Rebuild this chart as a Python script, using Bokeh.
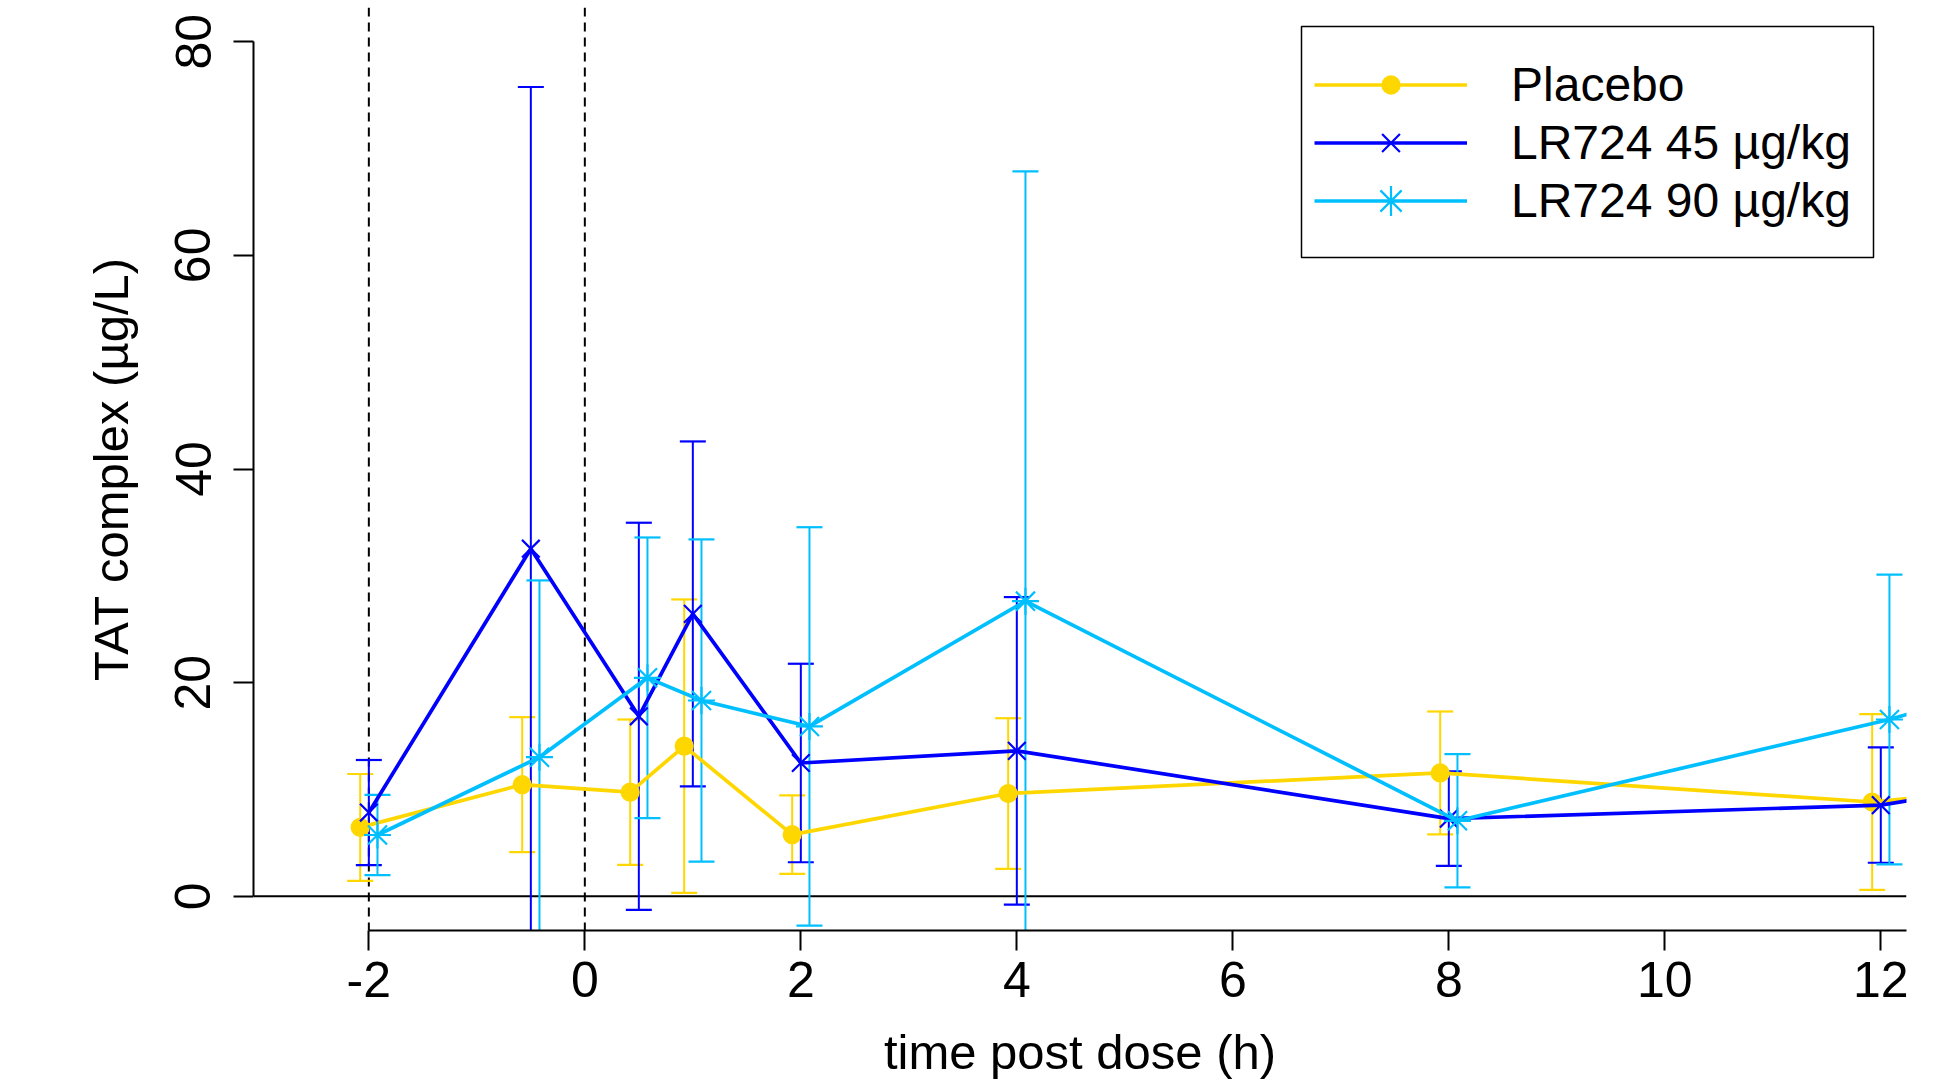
from bokeh.plotting import figure
from bokeh.models import (Range1d, Legend, LegendItem, Span, FixedTicker,
                          BoxAnnotation)
from bokeh.embed import file_html
from bokeh.resources import INLINE

# ---- data ----
times = [-2, -0.5, 0.5, 1, 2, 4, 8, 12, 24]
x_ticks = [-2, 0, 2, 4, 6, 8, 10, 12]
x_tick_labels = ["-2", "0", "2", "4", "6", "8", "10", "12"]
y_ticks = [0, 20, 40, 60, 80]
dose_window = [-2, 0]

groups = ["Placebo", "LR724 45 µg/kg", "LR724 90 µg/kg"]
placebo_mean = [6.45, 10.45, 9.75, 14.06, 5.77, 9.62, 11.55, 8.83, 20.8]
placebo_sd = [5.0, 6.32, 6.8, 13.73, 3.67, 7.05, 5.75, 8.22]
lr45_mean = [7.84, 32.54, 16.85, 26.44, 12.48, 13.62, 7.27, 8.54, 27.7]
lr45_sd = [4.92, 43.22, 18.12, 16.14, 9.29, 14.39, 4.42, 5.4]
lr90_mean = [5.74, 13.02, 20.45, 18.33, 15.9, 27.63, 7.07, 16.55, 52.0]
lr90_sd = [3.76, 16.55, 13.14, 15.08, 18.65, 40.23, 6.24, 13.56]

colors = ["#FFD700", "#0000FF", "#00BFFF"]
markers = ["circle", "x", "asterisk"]
marker_sizes = [17, 25, 27]
dodge = [-0.08, 0.0, 0.08]
means = [placebo_mean, lr45_mean, lr90_mean]
sds = [placebo_sd, lr45_sd, lr90_sd]

FONT = "Liberation Sans"
W, H = 1946, 1082
BL, BR, BT, BB = 253, 40, 7, 152

p = figure(width=W, height=H, output_backend="svg", toolbar_location=None,
           x_range=Range1d(-3.068, 12.238), y_range=Range1d(-3.20, 83.2),
           min_border_left=BL, min_border_right=BR, min_border_top=BT,
           min_border_bottom=BB)
p.grid.visible = False
p.outline_line_color = None
p.background_fill_color = "white"
p.border_fill_color = "white"

for loc in dose_window:
    p.add_layout(Span(location=loc, dimension="height", line_color="black",
                      line_width=2, line_dash="9 6", level="underlay"))
p.add_layout(Span(location=0, dimension="width", line_color="black",
                  line_width=2, level="underlay"))

# error bars
for mean, sd, col, dx in zip(means, sds, colors, dodge):
    xs = [t + dx for t in times[:len(sd)]]
    hi = [m + s for m, s in zip(mean, sd)]
    lo = [m - s for m, s in zip(mean, sd)]
    p.segment(x0=xs, y0=lo, x1=xs, y1=hi, line_color=col, line_width=2)
    p.scatter(xs, hi, marker="dash", size=26, line_color=col, line_width=2.2)
    p.scatter(xs, lo, marker="dash", size=26, line_color=col, line_width=2.2)

renderers = []
for name, mean, col, mk, ms, dx in zip(groups, means, colors, markers, marker_sizes, dodge):
    xs = [t + dx for t in times]
    lr = p.line(xs, mean, line_color=col, line_width=3.7)
    sr = p.scatter(xs, mean, marker=mk, size=ms, line_color=col, fill_color=col,
                   line_width=2.2)
    renderers.append((name, lr, sr))

# legend frame (screen units relative to the plot frame)
p.add_layout(BoxAnnotation(left=1048, right=1620, bottom=673, top=904,
                           left_units="screen", right_units="screen",
                           bottom_units="screen", top_units="screen",
                           fill_color="white", fill_alpha=1.0,
                           line_color="black", line_width=1.5, line_alpha=1.0))

# one legend row per group (lets each key symbol keep its own size)
row_centres = [84, 142, 200]          # px below top of frame area
glyph_heights = [43, 63, 75]
frame_bottom = H - BB
for (name, lr, sr), cy, gh in zip(renderers, row_centres, glyph_heights):
    item_h = max(gh, 55)
    leg = Legend(items=[LegendItem(label=name, renderers=[lr, sr])],
                 location=(1061, frame_bottom - (cy + item_h / 2)),
                 orientation="vertical",
                 border_line_alpha=0, background_fill_alpha=0,
                 padding=0, spacing=0, margin=0,
                 glyph_width=153, glyph_height=gh, label_height=item_h,
                 label_standoff=44,
                 label_text_font=FONT, label_text_font_size="48px",
                 label_text_color="black")
    p.add_layout(leg)

p.xaxis.ticker = FixedTicker(ticks=x_ticks)
p.xaxis.major_label_overrides = dict(zip(x_ticks, x_tick_labels))
p.xaxis.bounds = (-2, 12.238)
p.yaxis.ticker = FixedTicker(ticks=y_ticks)
p.yaxis.bounds = (0, 80)
p.xaxis.axis_label = "time post dose (h)"
p.yaxis.axis_label = "TAT complex (µg/L)"
for ax in (p.xaxis[0], p.yaxis[0]):
    ax.major_tick_out = 20
    ax.major_tick_in = 0
    ax.minor_tick_out = 0
    ax.minor_tick_in = 0
    ax.axis_line_width = 2
    ax.axis_line_color = "black"
    ax.major_tick_line_width = 2
    ax.major_tick_line_color = "black"
    ax.major_label_text_font = FONT
    ax.major_label_text_font_size = "50px"
    ax.major_label_text_color = "black"
    ax.axis_label_text_font = FONT
    ax.axis_label_text_font_size = "49px"
    ax.axis_label_text_font_style = "normal"
    ax.axis_label_text_color = "black"
p.xaxis.major_label_standoff = 11
p.xaxis.axis_label_standoff = 25
p.yaxis.major_label_orientation = "vertical"
p.yaxis.major_label_standoff = 23
p.yaxis.axis_label_standoff = 35

open("out.html", "w").write(file_html(p, INLINE))
